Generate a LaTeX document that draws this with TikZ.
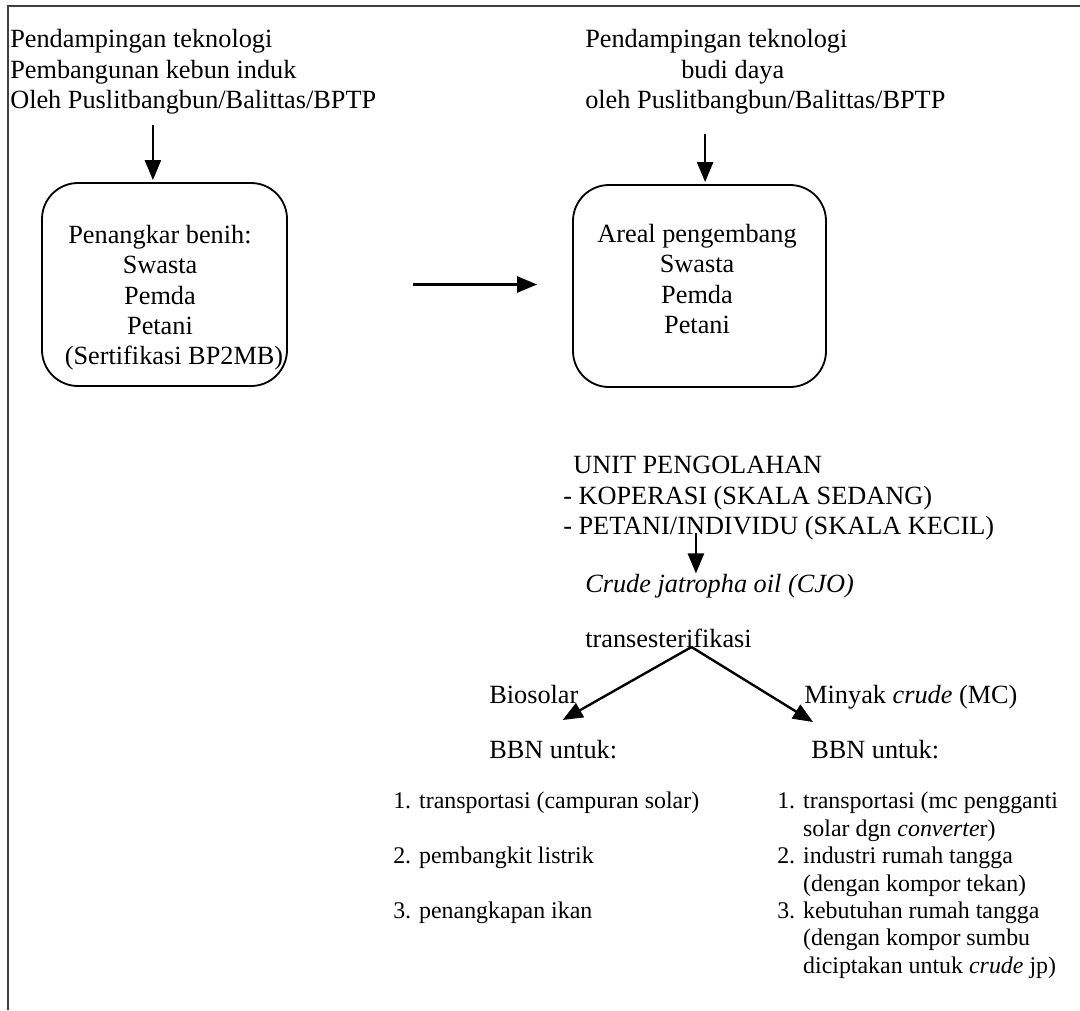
\documentclass[tikz,border=0pt]{standalone}
\usepackage{fontspec}
\setmainfont{Liberation Serif}
\usetikzlibrary{arrows.meta,calc}

\tikzset{
  txt/.style={inner sep=0pt, font=\fontsize{18.7}{21.6}\selectfont},
  lst/.style={inner sep=0pt, align=left, font=\fontsize{17}{19.5}\selectfont},
  rbox/.style={draw, line width=1.3pt, rounded corners=0.9cm, inner sep=0pt},
  arr/.style={line width=1.7pt, -{Triangle[length=0.5cm,width=0.4cm]}},
  frame/.style={line width=1.2pt, black!75}
}

\begin{document}
\begin{tikzpicture}
		\useasboundingbox (0,0) rectangle (27,-25.25);
		\draw [frame] (27,-0.15) -- (0.2,-0.15) -- (0.2,-25.25);

		% pendampingan
		\node [txt, anchor=north west, align=left] (srcA) at (0.25,-0.73) {Pendampingan teknologi\\Pembangunan kebun induk\\Oleh Puslitbangbun/Balittas/BPTP};
		\node [txt, anchor=north west, align=left] (srcB) at (14.625,-0.73) {Pendampingan teknologi\\\hspace*{2.4cm}budi daya\\oleh Puslitbangbun/Balittas/BPTP};

		% kotak
		\node [rbox, minimum width=6.125cm, minimum height=5.075cm] (boxA) at (4.1125,-7.1125) {};
		\node [txt, anchor=north, align=center] (txtA) at (4.0,-5.625) {Penangkar benih:\\Swasta\\Pemda\\Petani\\\hspace*{0.7cm}(Sertifikasi BP2MB)};
		\node [rbox, minimum width=6.325cm, minimum height=5.05cm] (boxB) at (17.4875,-7.15) {};
		\node [txt, anchor=north, align=center] (txtB) at (17.425,-5.6) {Areal pengembang\\Swasta\\Pemda\\Petani};

		% pengolahan
		\node [txt, anchor=north west, align=left] (unit) at (14.075,-11.4) {\hspace*{0.25cm}UNIT PENGOLAHAN\\- KOPERASI (SKALA SEDANG)\\- PETANI/INDIVIDU (SKALA KECIL)};
		\node [txt, anchor=base west] (cjo) at (14.625,-14.8) {\textit{Crude jatropha oil (CJO)}};
		\node [txt, anchor=base west] (trans) at (14.625,-16.175) {transesterifikasi};
		\node [txt, anchor=base west] (bio) at (12.225,-17.575) {Biosolar};
		\node [txt, anchor=base west] (mc) at (20.1,-17.575) {Minyak \textit{crude} (MC)};
		\node [txt, anchor=base west] (bbnA) at (12.225,-18.95) {BBN untuk:};
		\node [txt, anchor=base west] (bbnB) at (20.275,-18.95) {BBN untuk:};

		% penggunaan
		\node [lst, anchor=north west] (useA) at (9.825,-19.8) {1. transportasi (campuran solar)\\[19.5pt]2. pembangkit listrik\\[19.5pt]3. penangkapan ikan};
		\node [lst, anchor=north west] (useB) at (19.425,-19.8) {1. transportasi (mc pengganti\\\phantom{1. }solar dgn \textit{converte}r)\\2. industri rumah tangga\\\phantom{2. }(dengan kompor tekan)\\3. kebutuhan rumah tangga\\\phantom{3. }(dengan kompor sumbu\\\phantom{3. }diciptakan untuk \textit{crude} jp)};

		% panah
		\coordinate (tipA) at ([xshift=-0.29cm,yshift=0.05cm]boxA.north);
		\draw [arr] ($(srcA.south -| tipA)+(0,-0.275)$) -- (tipA);
		\coordinate (tipB) at ([xshift=0.14cm,yshift=0.05cm]boxB.north);
		\draw [arr] ($(srcB.south -| tipB)+(0,-0.5)$) -- (tipB);
		\draw [arr] ([xshift=3.125cm]boxA.east) -- ($(boxB.west |- boxA.east)+(-0.875,0)$);
		\coordinate (tipC) at ([xshift=-0.59cm]cjo.north);
		\draw [arr] ($(unit.south -| tipC)+(0,0.18)$) -- (tipC);
		\coordinate (split) at ([xshift=0.575cm]trans.base);
		\draw [arr] (split) -- ([xshift=-0.4cm,yshift=-0.425cm]bio.base east);
		\draw [arr] (split) -- ([xshift=0.225cm,yshift=-0.475cm]mc.base west);

	\end{tikzpicture}
\end{document}
